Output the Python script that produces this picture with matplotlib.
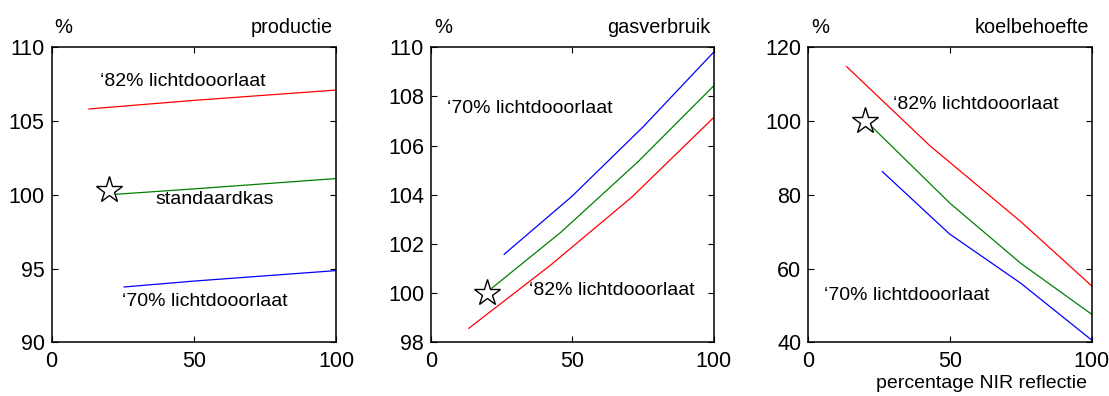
import matplotlib
matplotlib.use("Agg")
import matplotlib.pyplot as plt

plt.rcParams['font.family'] = ['Liberation Sans', 'DejaVu Sans']

# ---- data ----
prod_x_82 = [13.1, 50, 100]
prod_y_82 = [105.82, 106.4, 107.1]
prod_x_std = [20, 50, 100]
prod_y_std = [100.0, 100.4, 101.1]
prod_x_70 = [25.5, 50, 100]
prod_y_70 = [93.75, 94.15, 94.86]
prod_star = (20, 100.3)

gas_x_70 = [25.9, 49.8, 75.1, 100]
gas_y_70 = [101.58, 103.93, 106.77, 109.8]
gas_x_std = [21.5, 45.9, 73.3, 100]
gas_y_std = [100.2, 102.47, 105.35, 108.43]
gas_x_82 = [13.4, 42.1, 71.0, 100]
gas_y_82 = [98.57, 101.12, 103.9, 107.14]
gas_star = (20, 100.0)

koel_x_82 = [13.5, 42.9, 75, 100]
koel_y_82 = [114.76, 93.3, 72.7, 55.3]
koel_x_std = [22.1, 50, 75, 100]
koel_y_std = [98.7, 77.7, 61.4, 47.6]
koel_x_70 = [26.1, 49.8, 75, 100]
koel_y_70 = [86.3, 69.4, 56.0, 40.6]
koel_star = (20, 100.0)

titles = ["productie", "gasverbruik", "koelbehoefte"]
ylims = [(90, 110), (98, 110), (40, 120)]
yticks = [[90, 95, 100, 105, 110], [98, 100, 102, 104, 106, 108, 110], [40, 60, 80, 100, 120]]
xticks = [0, 50, 100]

fig = plt.figure(figsize=(11.09, 3.96), dpi=100)
lefts = [0.0466, 0.3886, 0.7289]
widths = [0.2564, 0.2549, 0.2555]
axes = [fig.add_axes([l, 0.1356, w, 0.745]) for l, w in zip(lefts, widths)]

RED, GREEN, BLUE = '#ff0000', '#008000', '#0000ff'
lw = 0.9

series = [
    [(prod_x_82, prod_y_82, RED), (prod_x_std, prod_y_std, GREEN), (prod_x_70, prod_y_70, BLUE)],
    [(gas_x_82, gas_y_82, RED), (gas_x_std, gas_y_std, GREEN), (gas_x_70, gas_y_70, BLUE)],
    [(koel_x_82, koel_y_82, RED), (koel_x_std, koel_y_std, GREEN), (koel_x_70, koel_y_70, BLUE)],
]
stars = [prod_star, gas_star, koel_star]

for i, ax in enumerate(axes):
    for x, y, c in series[i]:
        ax.plot(x, y, color=c, lw=lw)
    ax.plot([stars[i][0]], [stars[i][1]], marker='*', markersize=20,
            markerfacecolor='white', markeredgecolor='black', markeredgewidth=1.0,
            linestyle='none', zorder=5)
    ax.set_xlim(0, 100)
    ax.set_ylim(*ylims[i])
    ax.set_xticks(xticks)
    ax.set_yticks(yticks[i])
    ax.tick_params(axis='both', direction='in', length=4, width=0.8, top=True, right=True,
                   labelsize=15.5)
    ax.tick_params(axis='x', pad=6)
    ax.tick_params(axis='y', pad=5)
    for s in ax.spines.values():
        s.set_linewidth(1.1)
    ax.text(0.01, 1.068, "%", transform=ax.transAxes, ha='left', va='center', fontsize=14.5)
    ax.text(0.99, 1.068, titles[i], transform=ax.transAxes, ha='right', va='center', fontsize=14.3)

fs = 14
axes[0].text(17, 107.7, "\u201882% lichtdooorlaat", ha='left', va='center', fontsize=fs)
axes[0].text(36.6, 99.65, "standaardkas", ha='left', va='center', fontsize=fs)
axes[0].text(24.6, 92.76, "\u201870% lichtdooorlaat", ha='left', va='center', fontsize=fs)

axes[1].text(5.8, 107.52, "\u201870% lichtdooorlaat", ha='left', va='center', fontsize=fs)
axes[1].text(34.8, 100.09, "\u201882% lichtdooorlaat", ha='left', va='center', fontsize=fs)

axes[2].text(30, 104.5, "\u201882% lichtdooorlaat", ha='left', va='center', fontsize=fs)
axes[2].text(5.5, 52.6, "\u201870% lichtdooorlaat", ha='left', va='center', fontsize=fs)

axes[2].text(0.985, -0.14, "percentage NIR reflectie", transform=axes[2].transAxes,
             ha='right', va='center', fontsize=14)

fig.savefig("out.png", dpi=100)
